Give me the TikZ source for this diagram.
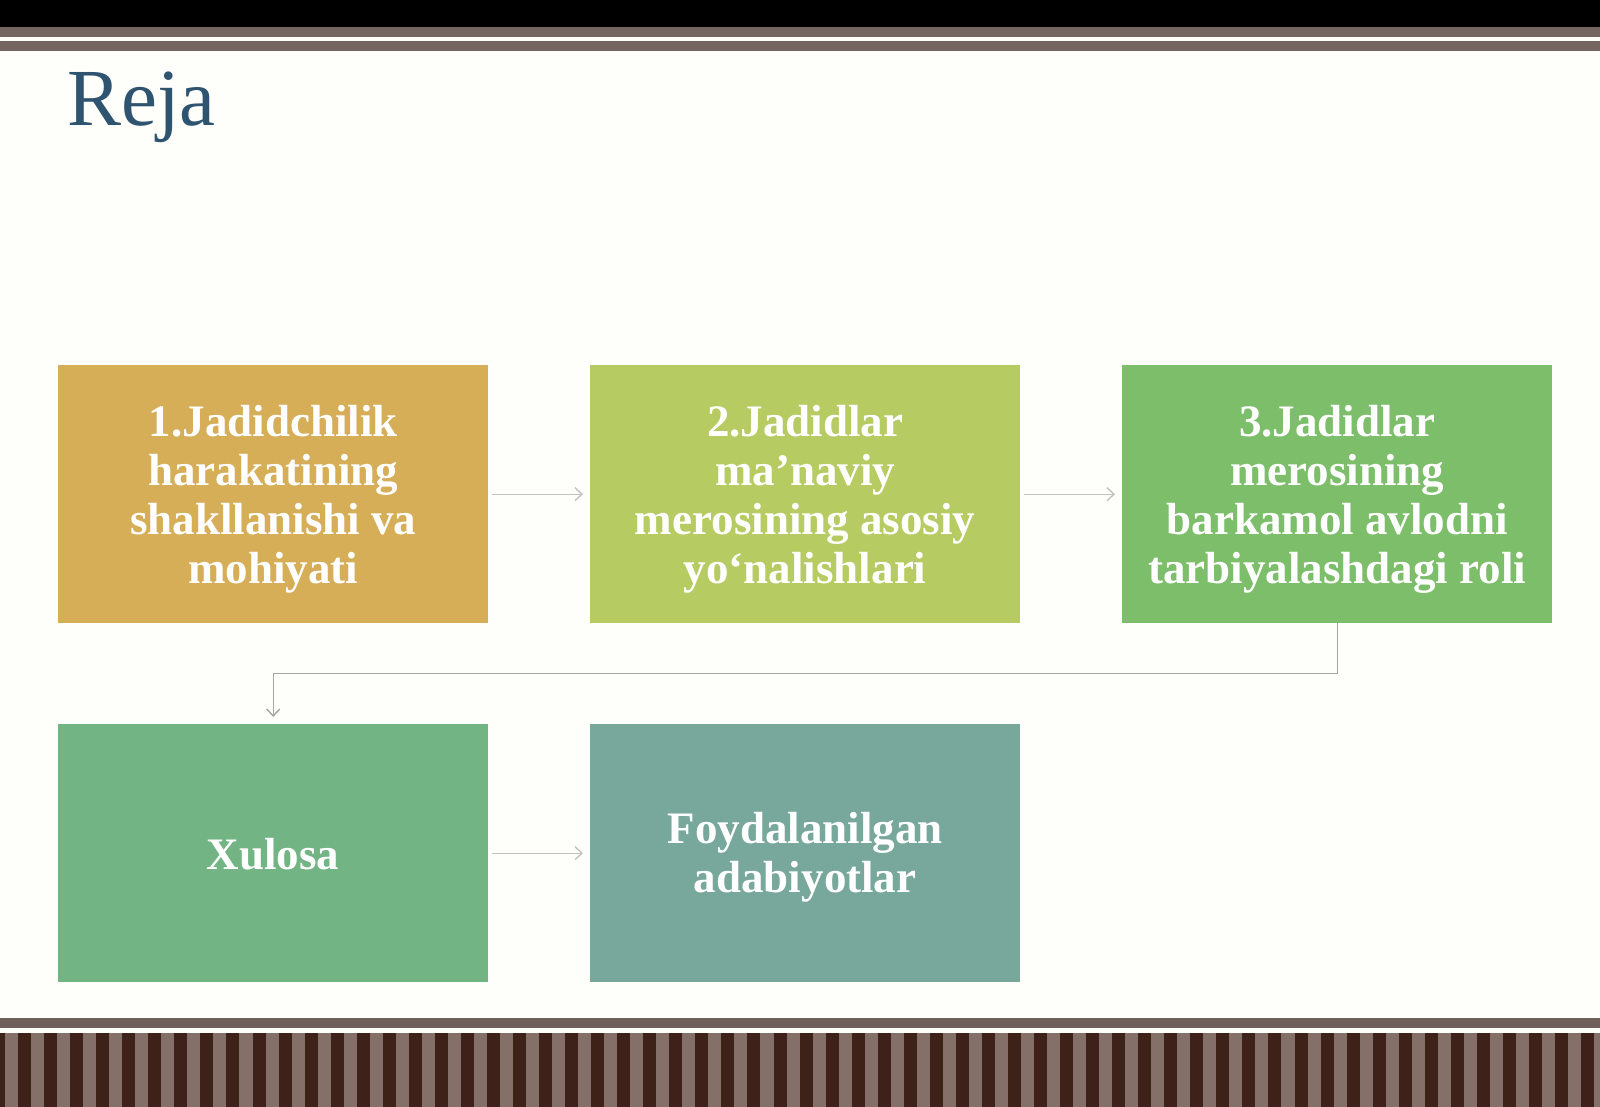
\documentclass[tikz,border=0pt]{standalone}
\usepackage{fontspec}
\setmainfont{Liberation Serif}
\usetikzlibrary{arrows.meta}
\definecolor{bg}{HTML}{FEFEFB}
\definecolor{barc}{HTML}{756560}
\definecolor{stdark}{HTML}{3E2119}
\definecolor{stlight}{HTML}{857069}
\definecolor{titlec}{HTML}{2F5470}
\definecolor{cA}{HTML}{D5AE57}
\definecolor{cB}{HTML}{B6CB62}
\definecolor{cC}{HTML}{7DBE6B}
\definecolor{cD}{HTML}{72B483}
\definecolor{cE}{HTML}{78A79B}
\definecolor{connA}{HTML}{C2C2BE}
\definecolor{connB}{HTML}{A3A6A3}
\tikzset{
  box/.style={anchor=north west, inner sep=0pt, minimum width=430pt, minimum height=258pt},
  txt/.style={inner sep=0pt, align=center, text=white, font=\fontsize{45}{49}\selectfont\bfseries},
  conn/.style={draw=connA, line width=1.4pt, -{Straight Barb[length=7pt,width=13pt]},
    shorten <=4pt, shorten >=7pt},
  connb/.style={draw=connB, line width=1.4pt, -{Straight Barb[length=7pt,width=13pt]},
    shorten >=7pt}
}
\begin{document}
\begin{tikzpicture}[x=1pt,y=-1pt]
\useasboundingbox (0,0) rectangle (1600,1107);
\fill[bg] (0,0) rectangle (1600,1107);
% top bars
\fill[black] (0,0) rectangle (1600,27);
\fill[barc] (0,27) rectangle (1600,37);
\fill[barc] (0,41) rectangle (1600,51);
% bottom bar and stripes
\fill[barc!95!black] (0,1018) rectangle (1600,1028);
\fill[stlight] (0,1033) rectangle (1600,1107);
\foreach \k in {0,...,62} {
  \fill[stdark] ({-8+26.05*\k},1033) rectangle ++(13,74);
}
% title
\node[anchor=base west, inner sep=0pt, text=titlec, font=\fontsize{81}{90}\selectfont] (title) at (67,126) {Reja};
% boxes
\node[box, fill=cA] (b1) at (58,365) {};
\node[box, fill=cB] (b2) at (590,365) {};
\node[box, fill=cC] (b3) at (1122,365) {};
\node[box, fill=cD] (b4) at (58,724) {};
\node[box, fill=cE] (b5) at (590,724) {};
% texts
\node[txt] (t1) at ([yshift=-5pt]b1.center) {1.Jadidchilik\\harakatining\\shakllanishi va\\mohiyati};
\node[txt] (t2) at ([yshift=-5pt]b2.center) {2.Jadidlar\\ma’naviy\\merosining asosiy\\yo‘nalishlari};
\node[txt] (t3) at ([yshift=-5pt]b3.center) {3.Jadidlar\\merosining\\barkamol avlodni\\tarbiyalashdagi roli};
\node[txt] (t4) at ([yshift=-1pt]b4.center) {Xulosa};
\node[txt] (t5) at ([yshift=-4pt]b5.center) {Foydalanilgan\\adabiyotlar};
% connectors
\draw[conn] (b1) -- (b2);
\draw[conn] (b2) -- (b3);
\draw[connb] (b3.south) -- ++(0,50) -| (b4.north);
\draw[conn] (b4) -- (b5);
\end{tikzpicture}
\end{document}
